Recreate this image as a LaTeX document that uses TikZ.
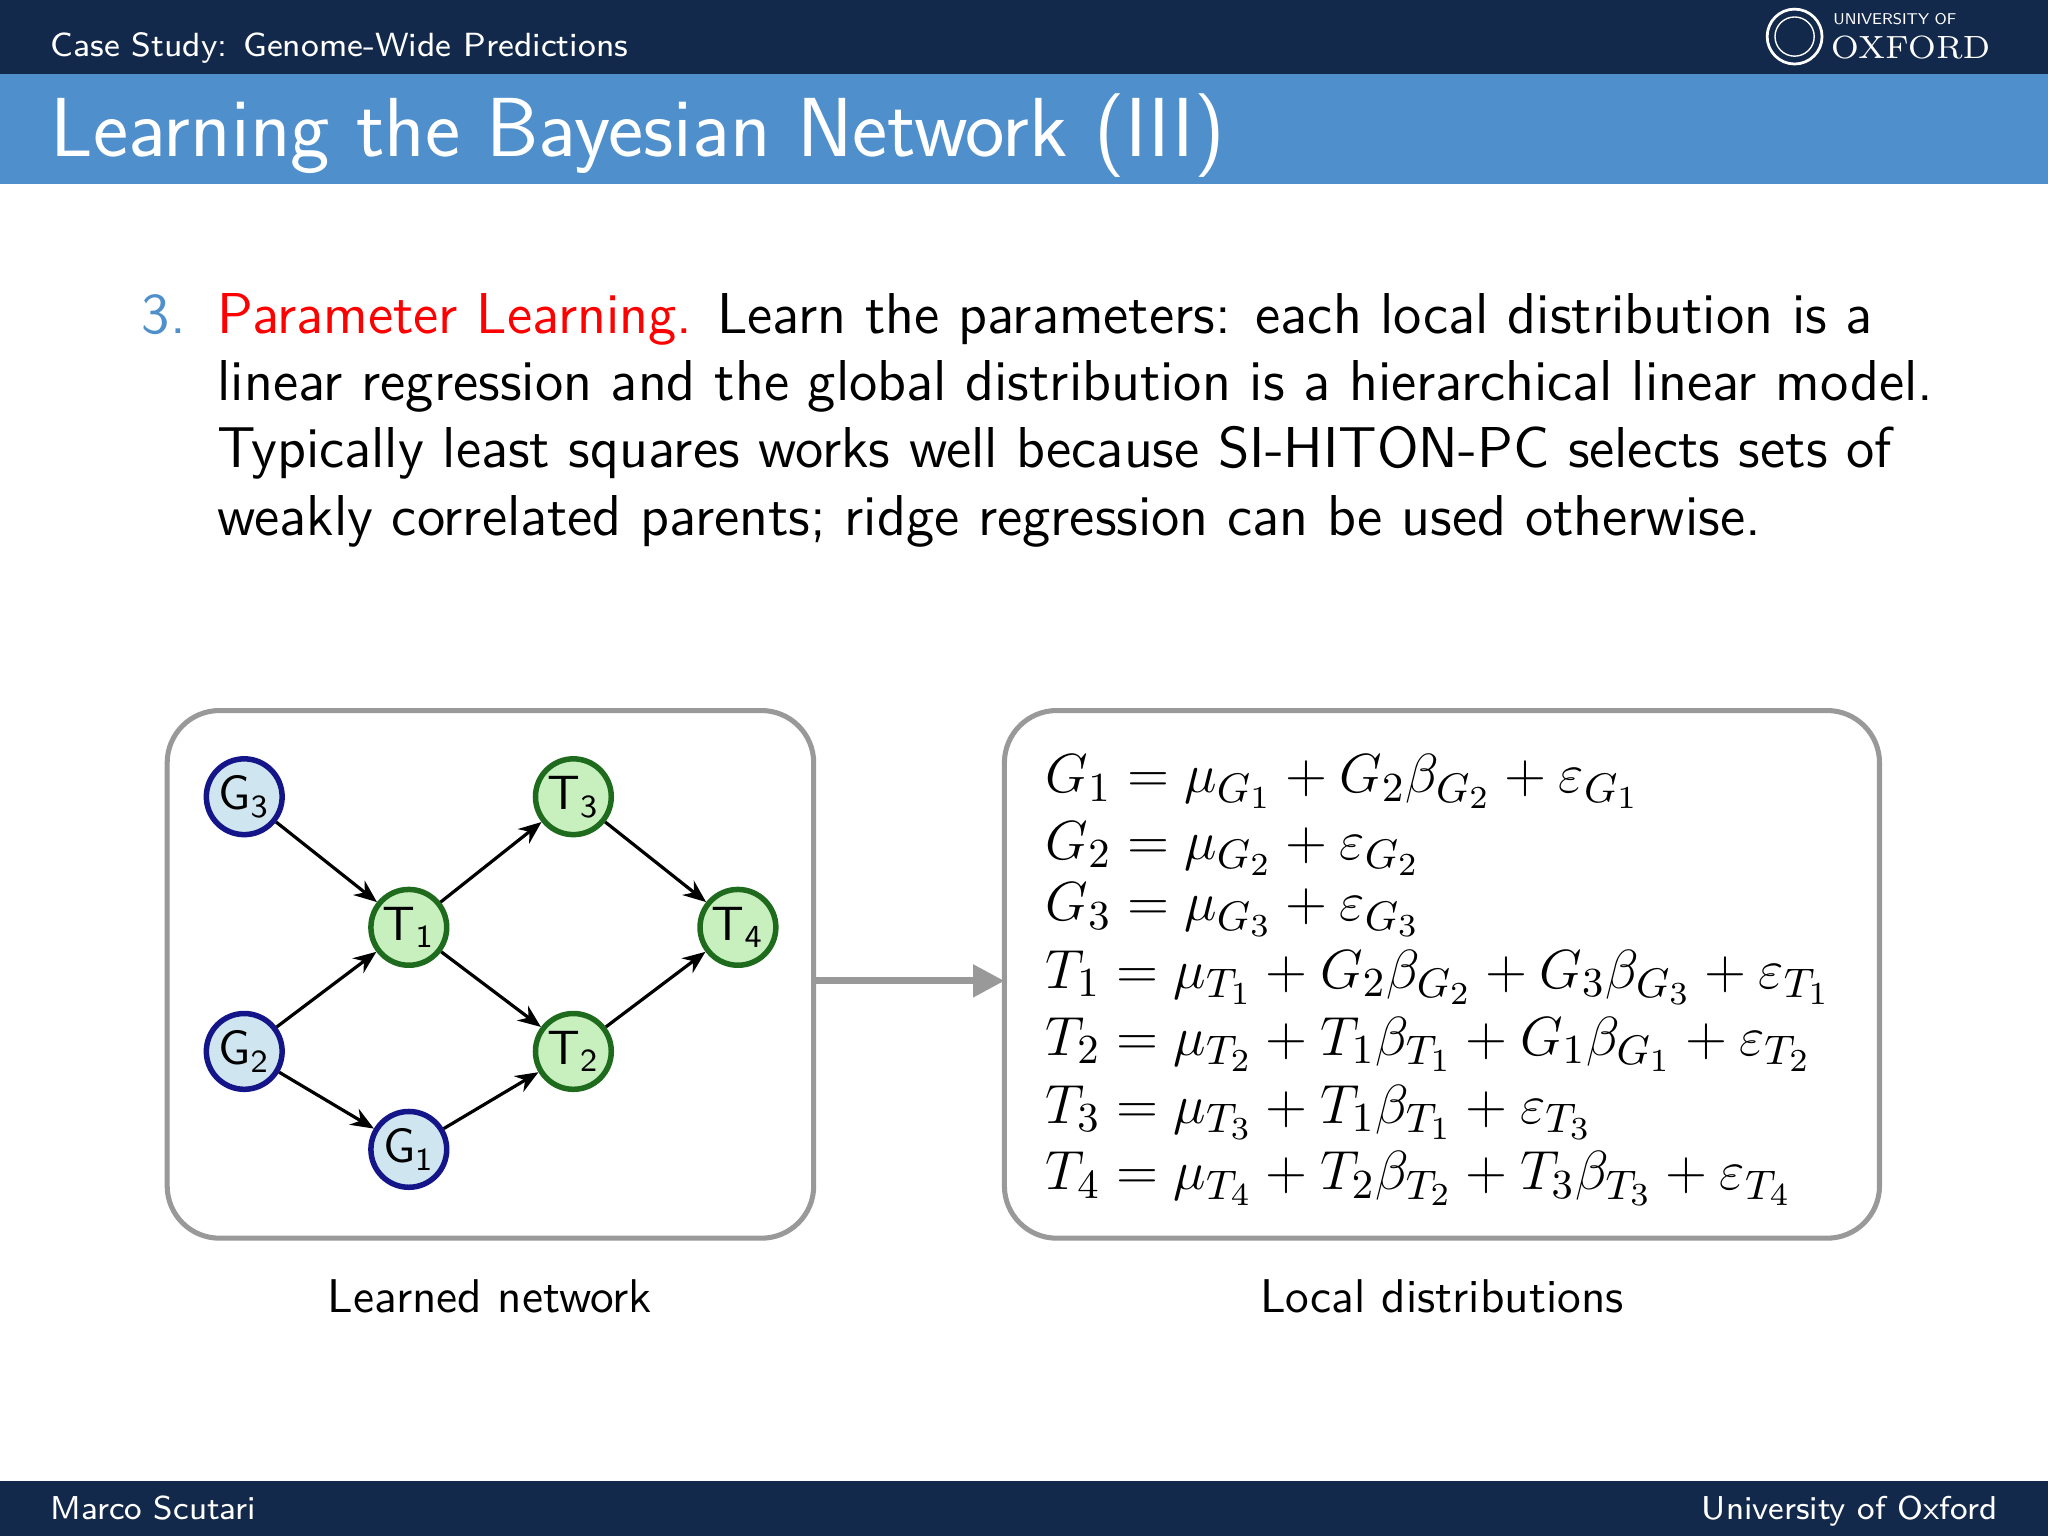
\documentclass[tikz,border=0pt]{standalone}
\usetikzlibrary{arrows.meta}
\definecolor{navy}{HTML}{13294B}
\definecolor{barblue}{HTML}{4F8FCC}
\definecolor{numblue}{HTML}{4F8FCC}
\definecolor{gfill}{HTML}{C8EFBE}
\definecolor{gline}{HTML}{1E6B1E}
\definecolor{bfill}{HTML}{CFE6F0}
\definecolor{bline}{HTML}{15158A}
\definecolor{boxgray}{HTML}{999999}
\tikzset{
  gnode/.style={circle,draw=gline,fill=gfill,line width=1.2pt,minimum size=0.58cm,inner sep=0pt,font=\sffamily\fontsize{10.5}{12}\selectfont},
  bnode/.style={circle,draw=bline,fill=bfill,line width=1.2pt,minimum size=0.58cm,inner sep=0pt,font=\sffamily\fontsize{10.5}{12}\selectfont},
  edge/.style={-{Stealth[length=5pt,width=4pt]},line width=0.7pt},
  panel/.style={draw=boxgray,line width=1.1pt,rounded corners=0.4cm},
  eq/.style={anchor=base west,inner sep=0pt,font=\fontsize{13.2}{15}\selectfont},
  body/.style={anchor=base west,inner sep=0pt,font=\sffamily\fontsize{12.55}{14}\selectfont}
}
\begin{document}
\begin{tikzpicture}[x=0.01cm,y=-0.01cm]
\useasboundingbox (0,0) rectangle (1568,1176);
\fill[white] (0,0) rectangle (1568,1176);
\fill[navy] (0,0) rectangle (1568,57);
\fill[barblue] (0,57) rectangle (1568,141);
\fill[navy] (0,1134) rectangle (1568,1176);
\node[anchor=base west,inner sep=0pt,text=white,font=\sffamily\fontsize{7.3}{8}\selectfont] (hdr) at (38,43) {Case Study: Genome-Wide Predictions};
\node[anchor=base west,inner sep=0pt,text=white,font=\sffamily\fontsize{18.25}{20}\selectfont] (title) at (38,120) {Learning the Bayesian Network (III)};
\node[anchor=base west,inner sep=0pt,text=white,font=\sffamily\fontsize{7.2}{8}\selectfont] (auth) at (38,1163) {Marco Scutari};
\node[anchor=base east,inner sep=0pt,text=white,font=\sffamily\fontsize{7.2}{8}\selectfont] (univ) at (1530,1163) {University of Oxford};
% logo
\node[circle,draw=white,line width=0.6pt,minimum size=0.42cm,inner sep=0pt] (seal) at (1374,28) {};
\node[circle,draw=white,line width=0.3pt,minimum size=0.3cm,inner sep=0pt] at (seal) {};
\node[anchor=base west,inner sep=0pt,text=white,font=\sffamily\fontsize{3.4}{4}\selectfont] (uo) at (1403,19) {UNIVERSITY OF};
\node[anchor=base west,inner sep=0pt,text=white,font=\rmfamily\fontsize{7}{8}\selectfont] (ox) at (1401,45) {OXFORD};
% body
\node[body,text=numblue] (num) at (108,255) {3.};
\node[body] (l1) at (166,255) {\textcolor{red}{Parameter Learning.} Learn the parameters: each local distribution is a};
\node[body] (l2) at (166,307) {linear regression and the global distribution is a hierarchical linear model.};
\node[body] (l3) at (166,358) {Typically least squares works well because SI-HITON-PC selects sets of};
\node[body] (l4) at (166,410) {weakly correlated parents; ridge regression can be used otherwise.};
% panels
\draw[panel] (128,544) rectangle (623,948);
\draw[panel] (769,544) rectangle (1439,948);
\coordinate (pl) at (623,751);
\coordinate (pr) at (769,751);
\draw[boxgray,line width=1.5pt,-{Triangle[length=0.24cm,width=0.24cm]}] (pl) -- (pr);
% network
\node[bnode] (G3) at (187,610) {G$_{\mathsf{3}}$};
\node[gnode] (T1) at (313,710) {T$_{\mathsf{1}}$};
\node[gnode] (T3) at (439,610) {T$_{\mathsf{3}}$};
\node[gnode] (T4) at (565,710) {T$_{\mathsf{4}}$};
\node[bnode] (G2) at (187,805) {G$_{\mathsf{2}}$};
\node[gnode] (T2) at (439,805) {T$_{\mathsf{2}}$};
\node[bnode] (G1) at (313,880) {G$_{\mathsf{1}}$};
\draw[edge] (G3) -- (T1);
\draw[edge] (G2) -- (T1);
\draw[edge] (G2) -- (G1);
\draw[edge] (G1) -- (T2);
\draw[edge] (T1) -- (T3);
\draw[edge] (T1) -- (T2);
\draw[edge] (T3) -- (T4);
\draw[edge] (T2) -- (T4);
% equations
\node[eq] (e1) at (800,607) {$G_1 = \mu_{G_1} + G_2\beta_{G_2} + \varepsilon_{G_1}$};
\node[eq] (e2) at (800,658) {$G_2 = \mu_{G_2} + \varepsilon_{G_2}$};
\node[eq] (e3) at (800,705) {$G_3 = \mu_{G_3} + \varepsilon_{G_3}$};
\node[eq] (e4) at (800,757) {$T_1 = \mu_{T_1} + G_2\beta_{G_2} + G_3\beta_{G_3} + \varepsilon_{T_1}$};
\node[eq] (e5) at (800,808) {$T_2 = \mu_{T_2} + T_1\beta_{T_1} + G_1\beta_{G_1} + \varepsilon_{T_2}$};
\node[eq] (e6) at (800,860) {$T_3 = \mu_{T_3} + T_1\beta_{T_1} + \varepsilon_{T_3}$};
\node[eq] (e7) at (800,911) {$T_4 = \mu_{T_4} + T_2\beta_{T_2} + T_3\beta_{T_3} + \varepsilon_{T_4}$};
% captions
\node[anchor=base,inner sep=0pt,font=\sffamily\fontsize{10.3}{12}\selectfont] (c1) at (375,1005) {Learned network};
\node[anchor=base,inner sep=0pt,font=\sffamily\fontsize{10.3}{12}\selectfont] (c2) at (1104,1005) {Local distributions};
\end{tikzpicture}
\end{document}
